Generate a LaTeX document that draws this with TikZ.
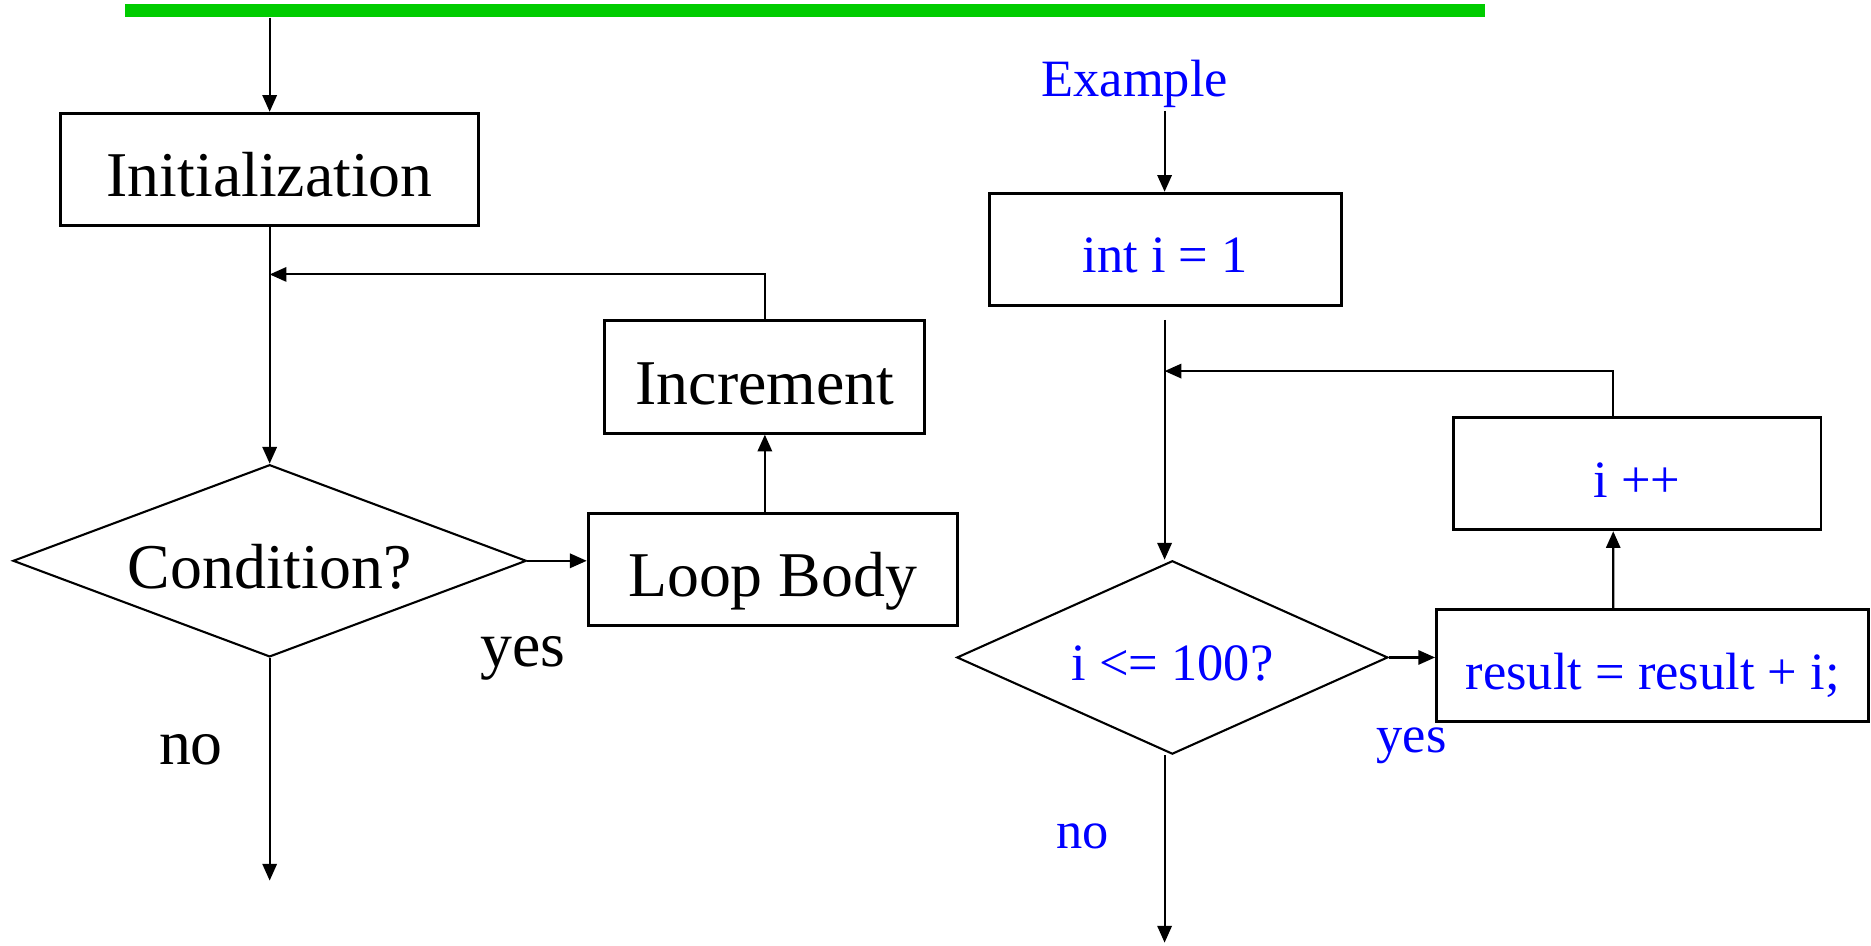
\documentclass[tikz,border=0pt]{standalone}
\usepackage{fontspec}
\setmainfont{Liberation Serif}
\usetikzlibrary{shapes.geometric,arrows.meta}
\definecolor{bargreen}{RGB}{0,204,0}

\begin{document}
\begin{tikzpicture}[x=0.01cm,y=-0.01cm,
  box/.style={draw,line width=0.7pt,minimum height=0.94cm,inner sep=0pt},
  decision/.style={draw,diamond,line width=0.5pt,inner sep=0pt},
  flow/.style={line width=0.5pt,-{Triangle[length=0.14cm,width=0.12cm]}},
  big/.style={font=\fontsize{15.2}{18}\selectfont},
  small/.style={font=\fontsize{12.5}{15}\selectfont,text=blue},
  bigtext/.style={big,text height=13.1pt,text depth=0pt},
  smalltext/.style={small,text height=11.2pt,text depth=0pt}]
\useasboundingbox (0,0) rectangle (1568,792);

% general loop
\node[fill=bargreen,minimum width=11.39cm,minimum height=0.11cm,inner sep=0pt] (bar) at (674.5,8.5) {};
\node[box,bigtext,minimum width=3.5cm] (init) at (226,142) {Initialization};
\coordinate (back) at (226,230);
\node[box,bigtext,minimum width=2.68cm] (incr) at (641,316) {Increment};
\node[decision,bigtext,aspect=2.67,minimum width=4.3cm,minimum height=1.61cm] (cond) at (226,470) {Condition?};
\node[box,bigtext,minimum width=3.09cm] (body) at (647.5,477) {Loop Body};
\node[big] (yes) at (438,552) {yes};
\node[big] (no) at (160,628) {no};
\coordinate (exit) at (226,738);

\draw[flow] (bar.south -| init) -- (init.north);
\draw[flow] (init.south) -- (cond.north);
\draw[flow] (cond.east) -- (cond.east -| body.west);
\draw[flow] (body.north -| incr) -- (incr.south);
\draw[flow] (incr.north) |- (back);
\draw[flow] (cond.south) -- (exit);

% example loop
\node[small] (example) at (951,70) {Example};
\coordinate (start) at (976,93);
\node[box,smalltext,minimum width=2.95cm] (init2) at (976.5,209) {int i = 1};
\coordinate (gap) at (976,268);
\coordinate (back2) at (976,311);
\node[box,smalltext,minimum width=3.08cm] (incr2) at (1372,397) {i ++};
\node[decision,smalltext,aspect=2.23,minimum width=3.61cm,minimum height=1.62cm] (cond2) at (982.5,551) {i <= 100?};
\node[box,smalltext,minimum width=3.62cm] (body2) at (1385,558) {result = result + i;};
\node[small] (yes2) at (1183,625) {yes};
\node[small] (no2) at (907,701) {no};
\coordinate (exit2) at (976,790);

\draw[flow] (start) -- (start |- init2.north);
\draw[flow] (gap) -- (gap |- cond2.north);
\draw[flow] (cond2.east) -- (cond2.east -| body2.west);
\draw[flow] ([xshift=-0.33cm]body2.north) -- ([xshift=-0.2cm]incr2.south);
\draw[flow] ([xshift=-0.2cm]incr2.north) |- (back2);
\draw[flow] (exit2 |- cond2.south) -- (exit2);
\end{tikzpicture}
\end{document}
